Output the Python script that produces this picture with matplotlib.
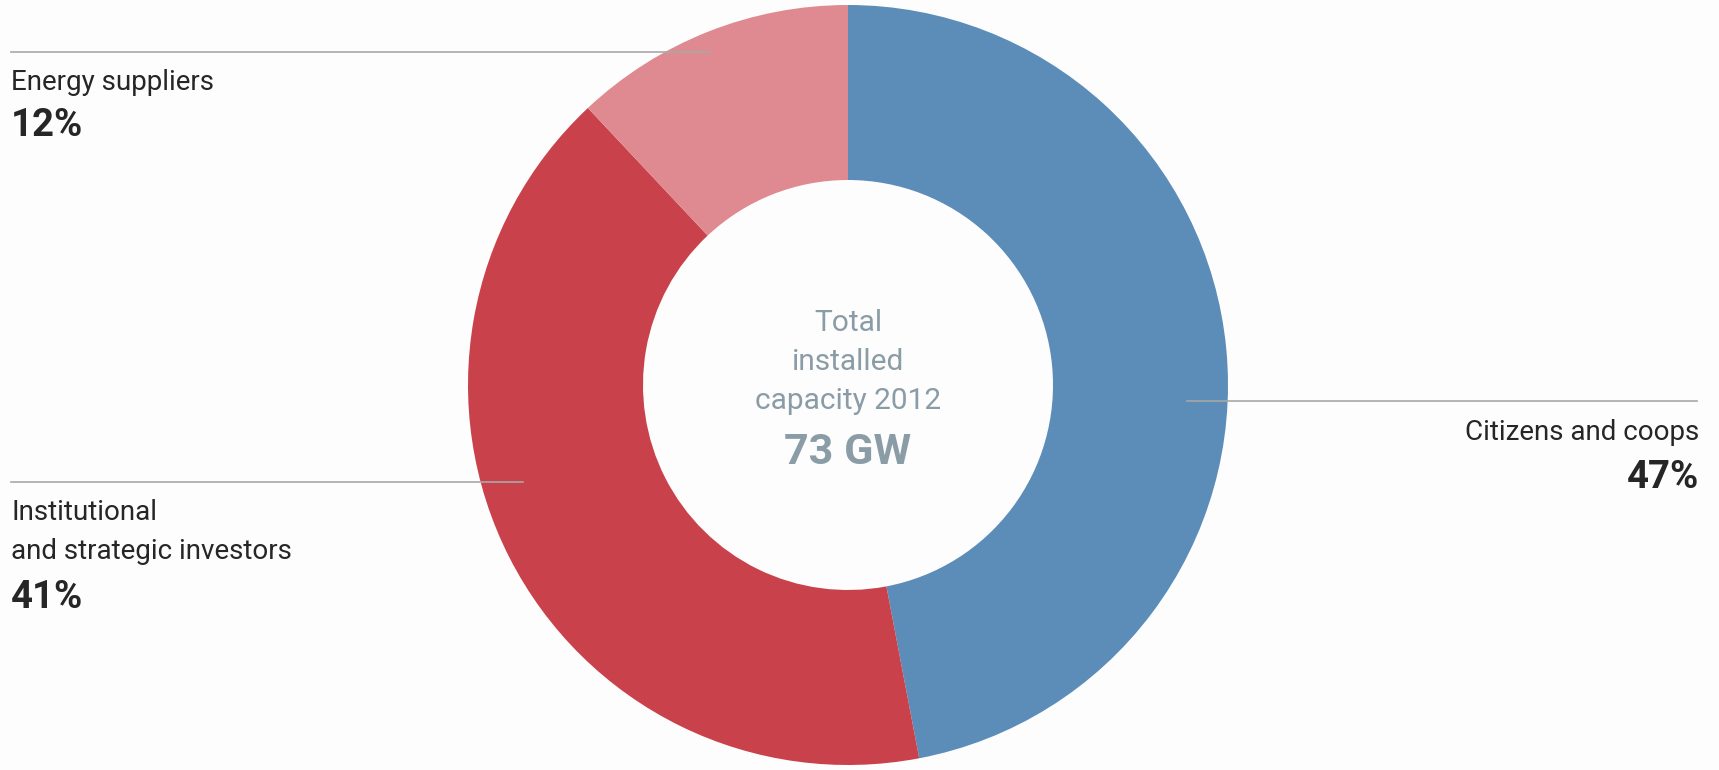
import matplotlib
matplotlib.use("Agg")
from matplotlib import pyplot as plt

labels = ["Citizens and coops", "Institutional\nand strategic investors", "Energy suppliers"]
shares = [47, 41, 12]
colors = ["#5b8db8", "#c9424b", "#de8a90"]
center_lines = ["Total", "installed", "capacity 2012"]
total_text = "73 GW"

W, H = 1719, 770
fonts = ["Liberation Sans Narrow", "Roboto", "DejaVu Sans"]
dark = "#262626"
grey = "#8a9ca6"
rule = "#a8a8a8"

fig = plt.figure(figsize=(W / 100, H / 100), dpi=100, facecolor="#fdfdfd")
ax = fig.add_axes([0, 0, 1, 1])
ax.set_facecolor("#fdfdfd")

cx, cy = 848, H - 385
ax.pie(shares, colors=colors, startangle=90, counterclock=False,
       center=(cx, cy), radius=380,
       wedgeprops=dict(width=175, linewidth=0))

ax.set_xlim(0, W)
ax.set_ylim(0, H)
ax.set_aspect("equal")
ax.axis("off")

# leader rules
ax.plot([11, 710], [H - 51.5, H - 51.5], color=rule, lw=1.2, zorder=5)
ax.plot([11, 523], [H - 482, H - 482], color=rule, lw=1.2, zorder=5)
ax.plot([1187, 1697], [H - 401, H - 401], color=rule, lw=1.2, zorder=5)

fs = 20
pfs = 27.5
# Energy suppliers
ax.text(11, H - 83, labels[2], fontsize=fs, color=dark, family=fonts, va="center", ha="left")
ax.text(11, H - 126, f"{shares[2]}%", fontsize=pfs, color=dark, family=fonts, weight="bold", va="center", ha="left")
# Institutional
ax.text(11, H - 532, labels[1], fontsize=fs, color=dark, family=fonts, va="center", ha="left", linespacing=1.6)
ax.text(11, H - 597, f"{shares[1]}%", fontsize=pfs, color=dark, family=fonts, weight="bold", va="center", ha="left")
# Citizens
ax.text(1699, H - 432, labels[0], fontsize=fs, color=dark, family=fonts, va="center", ha="right")
ax.text(1699, H - 478, f"{shares[0]}%", fontsize=pfs, color=dark, family=fonts, weight="bold", va="center", ha="right")

# centre
ax.text(cx, H - 362, "\n".join(center_lines), fontsize=21.5, color=grey, family=fonts,
        va="center", ha="center", linespacing=1.5)
ax.text(cx, H - 453, total_text, fontsize=31, color=grey, family=fonts, weight="bold",
        va="center", ha="center")

fig.savefig("out.png", dpi=100, facecolor=fig.get_facecolor())
